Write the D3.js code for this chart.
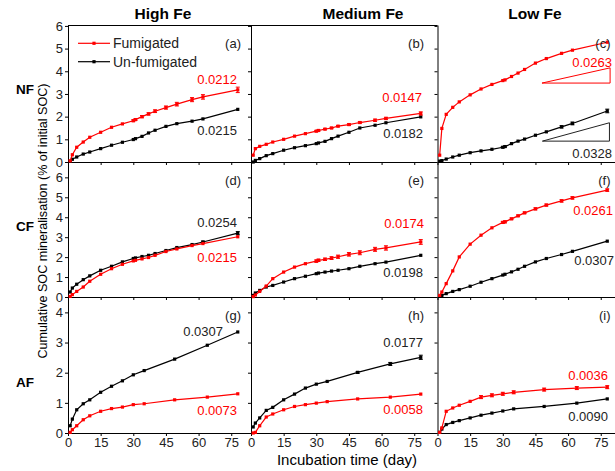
<!DOCTYPE html>
<html>
<head>
<meta charset="utf-8">
<script src="https://cdn.jsdelivr.net/npm/d3@7"></script>
<style>
  body { margin: 0; background: #fff; }
  svg { font-family: Arial, "Liberation Sans", sans-serif; display: block; }
</style>
</head>
<body>
<div class="svgWrapper"></div>
<script>
// Data //
const days = [1, 2, 4, 7, 10, 15, 20, 25, 30, 31, 34, 37, 40, 45, 50, 57, 62, 78];
const daysAF = [1, 2, 4, 7, 10, 15, 20, 25, 30, 35, 49, 64, 78];

const feLevels = ["High Fe", "Medium Fe", "Low Fe"];
const treatments = ["NF", "CF", "AF"];
const panelLetters = ["(a)", "(b)", "(c)", "(d)", "(e)", "(f)", "(g)", "(h)", "(i)"];
const xTicks = [0, 15, 30, 45, 60, 75];

// NF row
const fumA = [0.05, 0.32, 0.65, 0.88, 1.09, 1.31, 1.53, 1.68, 1.82, 1.87, 2.0, 2.12, 2.24, 2.4, 2.55, 2.75, 2.87, 3.18];
const unfumA = [0.03, 0.12, 0.22, 0.35, 0.44, 0.59, 0.74, 0.87, 0.99, 1.03, 1.13, 1.28, 1.4, 1.57, 1.69, 1.8, 1.9, 2.32];
const fumB = [0.3, 0.59, 0.69, 0.78, 0.88, 1.0, 1.14, 1.25, 1.36, 1.39, 1.45, 1.5, 1.58, 1.65, 1.74, 1.84, 1.92, 2.14];
const unfumB = [0.0, 0.07, 0.15, 0.28, 0.37, 0.52, 0.63, 0.72, 0.81, 0.84, 0.91, 1.03, 1.14, 1.31, 1.5, 1.62, 1.73, 1.99];
const fumC = [0.3, 1.48, 2.1, 2.41, 2.65, 2.96, 3.22, 3.42, 3.59, 3.62, 3.77, 3.92, 4.08, 4.36, 4.56, 4.79, 4.93, 5.28];
const unfumC = [0.04, 0.06, 0.13, 0.22, 0.3, 0.41, 0.49, 0.56, 0.65, 0.68, 0.81, 0.92, 1.01, 1.18, 1.33, 1.55, 1.7, 2.25];

// CF row
const fumD = [0.03, 0.12, 0.28, 0.5, 0.79, 1.14, 1.42, 1.64, 1.81, 1.84, 1.91, 1.98, 2.09, 2.28, 2.41, 2.58, 2.68, 3.02];
const unfumD = [0.25, 0.45, 0.64, 0.87, 1.06, 1.34, 1.54, 1.76, 1.93, 1.96, 2.03, 2.09, 2.18, 2.33, 2.48, 2.63, 2.76, 3.2];
const fumE = [0.02, 0.1, 0.28, 0.55, 0.92, 1.25, 1.5, 1.67, 1.8, 1.84, 1.89, 1.95, 2.02, 2.14, 2.22, 2.39, 2.46, 2.76];
const unfumE = [0.08, 0.2, 0.33, 0.5, 0.58, 0.75, 0.92, 1.04, 1.17, 1.2, 1.25, 1.3, 1.34, 1.42, 1.54, 1.67, 1.75, 2.09];
const fumF = [0.08, 0.25, 0.67, 1.31, 2.01, 2.65, 3.1, 3.47, 3.74, 3.77, 3.92, 4.07, 4.22, 4.42, 4.61, 4.82, 4.97, 5.36];
const unfumF = [0.03, 0.08, 0.17, 0.28, 0.37, 0.54, 0.74, 0.92, 1.1, 1.14, 1.26, 1.39, 1.54, 1.76, 1.93, 2.13, 2.29, 2.8];

// AF row
const fumG = [0.02, 0.11, 0.24, 0.44, 0.57, 0.72, 0.81, 0.86, 0.94, 0.97, 1.1, 1.19, 1.3];
const unfumG = [0.24, 0.46, 0.77, 0.97, 1.1, 1.35, 1.55, 1.73, 1.93, 2.07, 2.45, 2.91, 3.35];
const fumH = [0.0, 0.02, 0.24, 0.53, 0.63, 0.77, 0.88, 0.94, 0.99, 1.04, 1.13, 1.19, 1.29];
const unfumH = [0.2, 0.33, 0.5, 0.75, 0.85, 1.1, 1.29, 1.49, 1.62, 1.71, 2.01, 2.29, 2.51];
const fumI = [0.02, 0.17, 0.72, 0.83, 0.92, 1.05, 1.19, 1.25, 1.3, 1.35, 1.44, 1.49, 1.52];
const unfumI = [0.02, 0.13, 0.28, 0.35, 0.41, 0.5, 0.59, 0.66, 0.73, 0.8, 0.88, 0.99, 1.13];

// error bars (half widths) where visible
const errFumA = [0, 0, 0, 0, 0, 0, 0, 0, 0.04, 0.04, 0.05, 0.05, 0.06, 0.07, 0.08, 0.09, 0.1, 0.12];
const errFumB = [0, 0, 0, 0, 0, 0, 0, 0, 0.03, 0.03, 0.03, 0.03, 0.03, 0.04, 0.04, 0.05, 0.05, 0.07];
const errUnfumC = [0, 0, 0, 0, 0, 0, 0, 0, 0.03, 0.03, 0, 0, 0, 0, 0, 0.05, 0.06, 0.08];
const errUnfumD = [0, 0, 0, 0, 0, 0, 0, 0, 0, 0, 0, 0, 0, 0, 0, 0, 0.04, 0.08];
const errFumE = [0, 0, 0, 0, 0, 0, 0, 0, 0.06, 0.06, 0.06, 0.07, 0.08, 0.09, 0.1, 0.1, 0.11, 0.12];
const errFumF = [0, 0, 0, 0, 0, 0, 0, 0, 0.05, 0.05, 0.04, 0.04, 0.04, 0.05, 0.05, 0.06, 0.06, 0.06];
const errUnfumH = [0, 0, 0, 0, 0, 0, 0, 0, 0, 0, 0.03, 0.05, 0.07];
const errFumI = [0, 0, 0, 0, 0, 0, 0.05, 0.05, 0.05, 0.05, 0.05, 0.05, 0.05];

const rateFum = ["0.0212", "0.0147", "0.0263", "0.0215", "0.0174", "0.0261", "0.0073", "0.0058", "0.0036"];
const rateUnfum = ["0.0215", "0.0182", "0.0328", "0.0254", "0.0198", "0.0307", "0.0307", "0.0177", "0.0090"];

// Settings //
const RED = "#ff0000";
const BLACK = "#000000";

const colX = [68, 251, 437.5];
const colW = 185;
const xMax = 85;
const rows = [
  { top: 25, bottom: 162, max: 6.04, ticks: [0, 1, 2, 3, 4, 5, 6] },
  { top: 162, bottom: 297, max: 6.77, ticks: [0, 1, 2, 3, 4, 5, 6] },
  { top: 297, bottom: 433, max: 4.51, ticks: [0, 1, 2, 3, 4] }
];

// label anchors relative to panel (end-anchored x, baseline y)
const fumLabelPos = [[169, 59], [171, 77], [174.5, 42], [169, 100], [173, 66], [175.5, 53], [169, 118], [172, 117], [170.5, 83]];
const unfumLabelPos = [[169, 110], [172, 113], [174.5, 133], [169, 65], [172, 115], [176.5, 103], [155, 39], [172, 50], [170.5, 124]];

const panels = [
  { fum: fumA, unfum: unfumA, days: days, errFum: errFumA },
  { fum: fumB, unfum: unfumB, days: days, errFum: errFumB },
  { fum: fumC, unfum: unfumC, days: days, errUnfum: errUnfumC },
  { fum: fumD, unfum: unfumD, days: days, errUnfum: errUnfumD },
  { fum: fumE, unfum: unfumE, days: days, errFum: errFumE },
  { fum: fumF, unfum: unfumF, days: days, errFum: errFumF },
  { fum: fumG, unfum: unfumG, days: daysAF },
  { fum: fumH, unfum: unfumH, days: daysAF, errUnfum: errUnfumH },
  { fum: fumI, unfum: unfumI, days: daysAF, errFum: errFumI }
];

// Create graph
const svg = d3
  .select(".svgWrapper")
  .append("svg")
  .attr("width", 615)
  .attr("height", 471);

// column titles
const titleX = [163, 363, 535];
feLevels.forEach((t, i) => {
  svg
    .append("text")
    .attr("x", titleX[i])
    .attr("y", 19)
    .attr("text-anchor", "middle")
    .style("font-size", "15.5px")
    .style("font-weight", "bold")
    .text(t);
});

// row labels
const rowLabelY = [94, 231, 386.5];
treatments.forEach((t, i) => {
  svg
    .append("text")
    .attr("x", 25)
    .attr("y", rowLabelY[i])
    .attr("text-anchor", "middle")
    .style("font-size", "13.5px")
    .style("font-weight", "bold")
    .text(t);
});

// Y axis title
svg
  .append("text")
  .attr("transform", "translate(46.5, 221) rotate(-90)")
  .attr("text-anchor", "middle")
  .style("font-size", "12.6px")
  .text("Cumulative SOC mineralisation (% of initial SOC)");

// X axis title
svg
  .append("text")
  .attr("x", 347)
  .attr("y", 465)
  .attr("text-anchor", "middle")
  .style("font-size", "15px")
  .text("Incubation time (day)");

// top border for first row
svg
  .append("line")
  .attr("x1", colX[0])
  .attr("x2", colX[2])
  .attr("y1", rows[0].top + 0.5)
  .attr("y2", rows[0].top + 0.5)
  .attr("stroke", BLACK);

panels.forEach((p, k) => {
  const r = Math.floor(k / 3);
  const c = k % 3;
  const row = rows[r];

  const x = d3.scaleLinear().domain([0, xMax]).range([colX[c], colX[c] + colW]);
  const y = d3.scaleLinear().domain([0, row.max]).range([row.bottom, row.top]);

  const g = svg.append("g").attr("class", "panel");

  // y axis
  const yAxis = d3
    .axisLeft(y)
    .tickValues(row.ticks)
    .tickSize(3)
    .tickSizeOuter(0)
    .tickPadding(2)
    .tickFormat(c === 0 ? d3.format("d") : "");
  g.append("g")
    .attr("transform", `translate(${colX[c]}, 0)`)
    .style("font-size", "13px")
    .call(yAxis);

  // x axis
  const xAxis = d3
    .axisBottom(x)
    .tickValues(xTicks)
    .tickSize(3)
    .tickSizeOuter(0)
    .tickPadding(2)
    .tickFormat(r === 2 ? d3.format("d") : "");
  g.append("g")
    .attr("transform", `translate(0, ${row.bottom})`)
    .style("font-size", "13px")
    .call(xAxis);

  g.selectAll(".domain").attr("stroke", BLACK);
  g.selectAll(".tick text").attr("fill", "#222");

  const line = d3
    .line()
    .x(d => x(d[0]))
    .y(d => y(d[1]));

  const series = [
    { vals: p.unfum, err: p.errUnfum, color: BLACK },
    { vals: p.fum, err: p.errFum, color: RED }
  ];

  series.forEach(s => {
    const pts = p.days.map((d, i) => [d, s.vals[i], s.err ? s.err[i] : 0]);
    g.append("path")
      .datum(pts)
      .attr("fill", "none")
      .attr("stroke", s.color)
      .attr("stroke-width", 1.2)
      .attr("d", line);

    // error bars
    const eb = g
      .selectAll(null)
      .data(pts.filter(d => d[2] > 0))
      .enter()
      .append("g")
      .attr("stroke", s.color)
      .attr("stroke-width", 1);
    eb.append("line")
      .attr("x1", d => x(d[0]))
      .attr("x2", d => x(d[0]))
      .attr("y1", d => y(d[1] - d[2]))
      .attr("y2", d => y(d[1] + d[2]));
    eb.append("line")
      .attr("x1", d => x(d[0]) - 2)
      .attr("x2", d => x(d[0]) + 2)
      .attr("y1", d => y(d[1] + d[2]))
      .attr("y2", d => y(d[1] + d[2]));
    eb.append("line")
      .attr("x1", d => x(d[0]) - 2)
      .attr("x2", d => x(d[0]) + 2)
      .attr("y1", d => y(d[1] - d[2]))
      .attr("y2", d => y(d[1] - d[2]));

    g.selectAll(null)
      .data(pts)
      .enter()
      .append("rect")
      .attr("x", d => x(d[0]) - 1.6)
      .attr("y", d => y(d[1]) - 1.6)
      .attr("width", 3.2)
      .attr("height", 3.2)
      .attr("fill", s.color);
  });

  // panel letter
  g.append("text")
    .attr("x", colX[c] + 173)
    .attr("y", row.top + 22.5)
    .attr("text-anchor", "end")
    .style("font-size", "13px")
    .attr("fill", "#222")
    .text(panelLetters[k]);

  // rate labels
  g.append("text")
    .attr("x", colX[c] + fumLabelPos[k][0])
    .attr("y", row.top + fumLabelPos[k][1])
    .attr("text-anchor", "end")
    .style("font-size", "13px")
    .attr("fill", RED)
    .text(rateFum[k]);
  g.append("text")
    .attr("x", colX[c] + unfumLabelPos[k][0])
    .attr("y", row.top + unfumLabelPos[k][1])
    .attr("text-anchor", "end")
    .style("font-size", "13px")
    .attr("fill", "#222")
    .text(rateUnfum[k]);

  // slope triangles in panel (c)
  if (k === 2) {
    const tri = [
      { x0: 48, x1: 79.3, y0: 3.48, y1: 4.15, color: RED },
      { x0: 48.2, x1: 79, y0: 0.92, y1: 1.73, color: "#222" }
    ];
    tri.forEach(t => {
      g.append("path")
        .attr("d", `M${x(t.x0)},${y(t.y0)}L${x(t.x1)},${y(t.y1)}L${x(t.x1)},${y(t.y0)}Z`)
        .attr("fill", "none")
        .attr("stroke", t.color)
        .attr("stroke-width", 1);
    });
  }

  // legend in panel (a)
  if (k === 0) {
    const legendItems = [
      { label: "Fumigated", color: RED, y: 43.3 },
      { label: "Un-fumigated", color: BLACK, y: 61.7 }
    ];
    legendItems.forEach(item => {
      g.append("line")
        .attr("x1", 78)
        .attr("x2", 110)
        .attr("y1", item.y)
        .attr("y2", item.y)
        .attr("stroke", item.color)
        .attr("stroke-width", 1.2);
      g.append("rect")
        .attr("x", 92.4)
        .attr("y", item.y - 1.6)
        .attr("width", 3.2)
        .attr("height", 3.2)
        .attr("fill", item.color);
      g.append("text")
        .attr("x", 113)
        .attr("y", item.y + 5)
        .style("font-size", "14px")
        .attr("fill", "#222")
        .text(item.label);
    });
  }
});
</script>
</body>
</html>
